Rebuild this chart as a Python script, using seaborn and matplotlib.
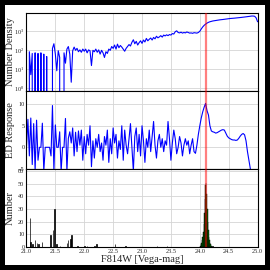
import numpy as np
import pandas as pd
import seaborn as sns
import matplotlib
matplotlib.use('Agg')
import matplotlib.pyplot as plt
from matplotlib.ticker import FixedLocator, NullLocator, LogLocator, LogFormatterMathtext

# magnitude grid (bin centres, 0.025 mag)
mag = np.round(np.linspace(21.0, 25.0, 161), 3)

# smoothed luminosity function
density = [
    115, 0, 80, 5, 65, 0, 70, 0, 65, 0,
    70, 0, 60, 0, 45, 0, 0, 0, 120, 210,
    60, 8, 90, 40, 0, 0, 70, 20, 110, 150,
    60, 2, 90, 140, 95, 120, 80, 100, 75, 110,
    85, 110, 70, 100, 90, 15, 95, 80, 110, 75,
    100, 60, 95, 70, 40, 80, 65, 110, 95, 150,
    120, 180, 110, 200, 130, 170, 140, 110, 85, 120,
    150, 190, 160, 250, 340, 210, 280, 180, 240, 300,
    220, 330, 260, 400, 300, 360, 420, 330, 450, 380,
    520, 430, 480, 560, 470, 600, 540, 620, 560, 640,
    600, 720, 680, 900, 1000, 820, 780, 850, 760, 820,
    780, 870, 820, 760, 780, 740, 800, 780, 760, 820,
    950, 1250, 1600, 1950, 2250, 2550, 2800, 3000, 3150, 3300,
    3400, 3500, 3600, 3700, 3800, 3850, 3950, 4050, 4150, 4250,
    4350, 4450, 4500, 4600, 4650, 4750, 4800, 4900, 5000, 5100,
    5200, 5300, 5450, 5600, 5800, 5950, 6000, 6000, 5800, 4800,
    3000,
]

# edge detection response
ed_response = [
    0, 6.5, -2, 6.8, -4, 5.5, -5.5, 6.3, -3, 0,
    0, 5.6, -5.5, 0, 0, 0, 0, -2, 9.7, -5.5,
    5.2, 0, 0, 3.6, -5.5, 0, 0, 6.7, -5.5, 2.1,
    3.6, 1.0, 4.5, -2, 3.5, -1, 3.8, 0.5, 4.0, -3,
    2.5, -1.5, 3.0, 0.5, 5.0, -4.5, 1.5, -2.5, 2.0, 0.0,
    3.0, -1.0, 1.0, -3.0, 2.5, 0.5, 4.0, -3.5, 2.0, -1.5,
    4.5, 1.0, 3.0, -2.5, 1.5, -0.5, 5.0, -3.0, 4.0, 0.5,
    -1.5, 2.0, 5.5, 0.0, -5.5, 2.5, 4.5, -1.0, 3.0, -2.0,
    5.0, 1.5, -3.5, 2.0, 0.0, 4.0, -1.0, 2.5, 6.0, 0.5,
    -2.5, 1.5, 3.0, 0.0, 2.0, -1.0, 1.5, 0.5, 6.0, 2.0,
    -3.0, 1.0, 4.0, 2.0, -1.5, 0.0, 2.5, 1.0, -2.0, 0.5,
    2.0, 0.5, 1.5, -1.5, 0.5, 2.0, -1.0, -1.4, 0.5, 3.0,
    5.0, 6.8, 8.2, 9.3, 10.2, 8.5, 7.5, 5.0, 3.8, 3.6,
    3.5, 3.3, 3.4, 3.6, 3.8, 4.0, 4.1, 4.0, 3.3, 2.6,
    2.2, 2.0, 1.8, 1.7, 1.7, 1.6, 1.7, 2.1, 2.6, 3.0,
    3.2, 2.9, 1.5, -1.0, -3.0, -5.0, -8, -8, -8, -8,
    -8,
]

# histogram of stars (black) and of TRGB estimates (green)
hist_mag = [21.06, 21.07, 21.10, 21.15, 21.18, 21.21, 21.27, 21.42, 21.46, 21.48,
            21.52, 21.58, 21.70, 21.72, 21.76, 21.78, 21.88, 22.00, 22.05, 22.18,
            22.21, 22.53, 22.72, 23.26, 23.43, 24.22]
hist_count = [23, 4, 2, 5, 3, 2, 4, 9, 13, 30,
              2, 1, 3, 5, 6, 9, 1, 1, 1, 1,
              2, 2, 1, 1, 1, 1]
tip_mag = [24.01, 24.02, 24.03, 24.04, 24.05, 24.06, 24.07, 24.08, 24.09, 24.10,
           24.11, 24.12, 24.13, 24.14, 24.15, 24.16, 24.17, 24.18, 24.19, 24.20]
tip_count = [1, 2, 3, 5, 8, 12, 18, 27, 38, 49, 51, 42, 30, 20, 13, 8, 5, 3, 2, 1]
trgb = 24.1

df = pd.DataFrame({'mag': mag, 'density': density, 'ed': ed_response})

sns.set_theme(style='whitegrid', rc={
    'axes.edgecolor': 'black', 'axes.linewidth': 0.8,
    'grid.color': '#d4d4d4', 'grid.linewidth': 0.6,
})
plt.rcParams['font.family'] = ['Liberation Serif', 'DejaVu Serif']
plt.rcParams['mathtext.fontset'] = 'stix'

fig, (ax1, ax2, ax3) = plt.subplots(3, 1, figsize=(2.7, 2.7), dpi=100, sharex=True)
fig.subplots_adjust(left=0.098, right=0.954, top=0.952, bottom=0.086, hspace=0)
fig.patch.set_edgecolor('black')
fig.patch.set_linewidth(7)

# top: number density (log)
sns.lineplot(data=df, x='mag', y='density', ax=ax1, color='blue', lw=0.8, estimator=None)
ax1.set_yscale('log')
ax1.set_ylim(0.7, 8700)
ax1.yaxis.set_major_locator(LogLocator(base=10, numticks=10))
ax1.yaxis.set_major_formatter(LogFormatterMathtext())
ax1.yaxis.set_minor_locator(NullLocator())
ax1.set_ylabel('Number Density', fontsize=7.5)

# middle: edge detection response
sns.lineplot(data=df, x='mag', y='ed', ax=ax2, color='blue', lw=0.8, estimator=None)
ax2.set_ylim(-5, 13.1)
ax2.yaxis.set_major_locator(FixedLocator([-5, 0, 5, 10]))
ax2.set_ylabel('ED Response', fontsize=7.5)

# bottom: histograms
ax3.bar(hist_mag, hist_count, width=0.012, color='black', edgecolor='black', linewidth=0.5)
ax3.bar(tip_mag, tip_count, width=0.01, color='green', edgecolor='black', linewidth=0.3)
ax3.set_ylim(0, 62)
ax3.yaxis.set_major_locator(FixedLocator([0, 10, 20, 30, 40, 50, 60]))
ax3.set_ylabel('Number', fontsize=7.5)
ax3.set_xlabel('F814W [Vega-mag]', fontsize=7.5, labelpad=1)

ax3.set_xlim(21.0, 25.0)
ax3.xaxis.set_major_locator(FixedLocator(np.arange(21.0, 25.01, 0.5)))
ax3.xaxis.set_major_formatter(matplotlib.ticker.FormatStrFormatter('%.1f'))

for ax in (ax1, ax2, ax3):
    ax.axvline(trgb, color='red', lw=1.6, alpha=0.5, zorder=5)
    ax.tick_params(axis='both', labelsize=4.5, length=0, pad=1.5)
    ax.grid(True, which='major')
    ax.set_axisbelow(True)
    ax.yaxis.set_label_coords(-0.05, 0.5)
    for s in ax.spines.values():
        s.set_color('black')
        s.set_linewidth(0.8)
for ax in (ax1, ax2):
    ax.set_xlabel('')

fig.savefig('out.png', dpi=100)
